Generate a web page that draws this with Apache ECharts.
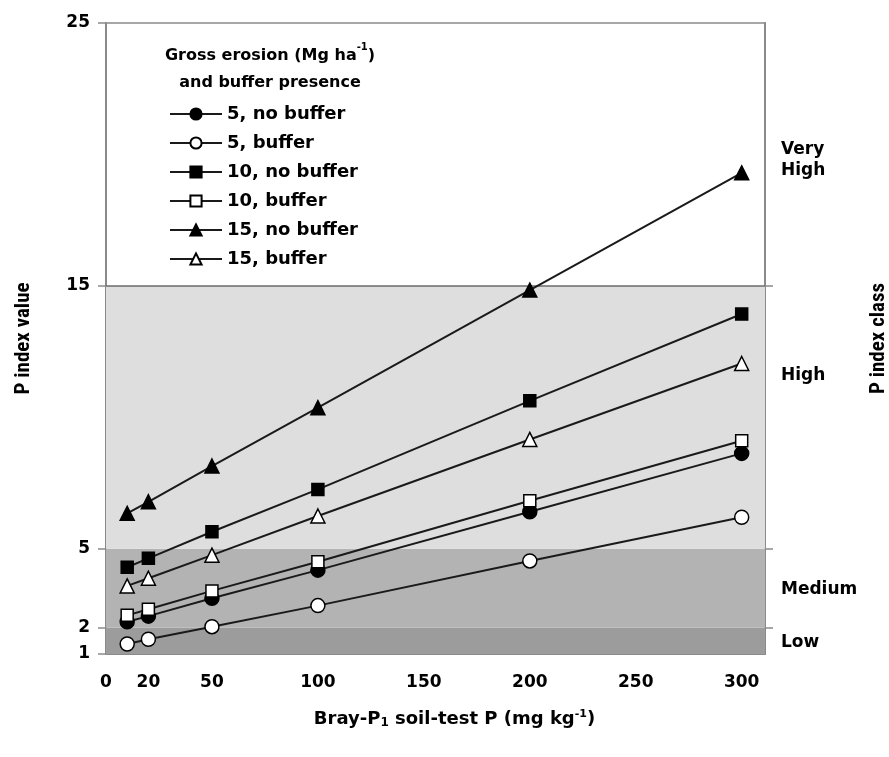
<!DOCTYPE html>
<html>
<head>
<meta charset="utf-8">
<script src="https://cdn.jsdelivr.net/npm/echarts@6/dist/echarts.min.js"></script>
<style>
  html, body { margin: 0; padding: 0; background: #fff; }
  #chart { width: 889px; height: 757px; }
</style>
</head>
<body>
<div id="chart"></div>
<script>
// soil-test P levels (mg/kg)
var soilP = [10, 20, 50, 100, 200, 300];

// P index values
var e5NoBuffer = [2.23, 2.44, 3.12, 4.19, 6.41, 8.63];
var e5Buffer = [1.38, 1.56, 2.04, 2.84, 4.54, 6.2];
var e10NoBuffer = [4.3, 4.64, 5.65, 7.26, 10.63, 13.93];
var e10Buffer = [2.47, 2.7, 3.4, 4.51, 6.83, 9.11];
var e15NoBuffer = [6.35, 6.79, 8.15, 10.37, 14.84, 19.3];
var e15Buffer = [3.59, 3.88, 4.76, 6.25, 9.16, 12.05];

var xLabels = [0, 20, 50, 100, 150, 200, 250, 300];
var xTicks = [50, 100, 150, 200, 250, 300];
var yTicks = [1, 2, 5, 15, 25];
var classBreaks = [2, 5, 15];
// class names and where their labels sit on the right
var classNames = ['Low', 'Medium', 'High', 'Very\nHigh'];
var classLabelAt = [1.42, 3.45, 11.6, 19.8];
var bands = [[1, 2, '#9c9c9c'], [2, 5, '#b3b3b3'], [5, 15, '#dedede']];

var chart = echarts.init(document.getElementById('chart'));

var font = 'DejaVu Sans, Verdana, sans-serif';
var nameFont = 'Liberation Sans Narrow, Roboto Condensed, Roboto, sans-serif';

function pair(xs, ys) {
    return xs.map(function (x, i) { return [x, ys[i]]; });
}

function lineSeries(name, ys, symbol, size, filled) {
    return {
        name: name,
        type: 'line',
        z: 5,
        data: pair(soilP, ys),
        symbol: symbol,
        symbolSize: size,
        showAllSymbol: true,
        lineStyle: { color: '#1a1a1a', width: 2 },
        itemStyle: {
            color: filled ? '#000' : '#fff',
            borderColor: '#000',
            borderWidth: 1.5
        }
    };
}

var option = {
    backgroundColor: '#fff',
    animation: false,
    title: {
        text: 'Gross erosion (Mg ha{sup|-1})\nand buffer presence',
        left: 265,
        top: 37,
        textAlign: 'center',
        textStyle: {
            fontFamily: font,
            fontSize: 16,
            fontWeight: 'bold',
            color: '#000',
            lineHeight: 27,
            rich: {
                sup: { fontSize: 10, fontWeight: 'bold', verticalAlign: 'top', lineHeight: 27, padding: [0, 0, 8, 0] }
            }
        }
    },
    legend: {
        data: ['5, no buffer', '5, buffer', '10, no buffer', '10, buffer', '15, no buffer', '15, buffer'],
        orient: 'vertical',
        left: 164,
        top: 99,
        itemWidth: 52,
        itemHeight: 14,
        itemGap: 9,
        textStyle: { fontFamily: font, fontSize: 18, fontWeight: 'bold', color: '#000', lineHeight: 20 }
    },
    grid: {
        left: 106,
        right: 124,
        top: 23,
        bottom: 103,
        outerBoundsMode: 'none',
        show: true,
        borderColor: '#8a8a8a',
        borderWidth: 1.5
    },
    xAxis: {
        type: 'value',
        min: 0,
        max: 311,
        name: 'Bray-P{sub|1} soil-test P (mg kg{sup|-1})',
        nameLocation: 'middle',
        nameGap: 55,
        nameTextStyle: {
            fontFamily: font, fontSize: 18, fontWeight: 'bold', color: '#000',
            padding: [0, 0, 0, 38],
            rich: {
                sub: { fontSize: 12, fontWeight: 'bold', verticalAlign: 'bottom', padding: [8, 0, 0, 0] },
                sup: { fontSize: 11, fontWeight: 'bold', verticalAlign: 'top', padding: [0, 0, 8, 0] }
            }
        },
        axisLine: { lineStyle: { color: '#8a8a8a', width: 2 } },
        axisTick: { inside: true, length: 4, customValues: xTicks, lineStyle: { color: '#999' } },
        axisLabel: {
            customValues: xLabels,
            margin: 20,
            fontFamily: font, fontSize: 17, fontWeight: 'bold', color: '#000'
        },
        splitLine: { show: false }
    },
    yAxis: [{
        type: 'value',
        min: 1,
        max: 25,
        name: 'P index value',
        nameLocation: 'middle',
        nameRotate: 90,
        nameGap: 72,
        nameTextStyle: { fontFamily: nameFont, fontSize: 21, fontWeight: 'bold', color: '#000' },
        axisLine: { show: true, lineStyle: { color: '#8a8a8a', width: 2 } },
        axisTick: { show: true, length: 8, customValues: yTicks, lineStyle: { color: '#8a8a8a', width: 1.5 } },
        axisLabel: {
            customValues: yTicks,
            margin: 16,
            fontFamily: font, fontSize: 17, fontWeight: 'bold', color: '#000'
        },
        splitLine: { show: false }
    }, {
        type: 'value',
        position: 'right',
        min: 1,
        max: 25,
        name: 'P index class',
        nameLocation: 'middle',
        nameRotate: 90,
        nameGap: 92,
        nameTextStyle: { fontFamily: nameFont, fontSize: 21, fontWeight: 'bold', color: '#000' },
        axisLine: { show: true, lineStyle: { color: '#8a8a8a', width: 2 } },
        axisTick: { show: true, length: 8, customValues: classBreaks, lineStyle: { color: '#8a8a8a', width: 1.5 } },
        axisLabel: {
            customValues: classLabelAt,
            margin: 16,
            align: 'left',
            lineHeight: 21,
            fontFamily: font, fontSize: 17, fontWeight: 'bold', color: '#000',
            formatter: function (v) {
                var i = classLabelAt.indexOf(v);
                return i >= 0 ? classNames[i] : '';
            }
        },
        splitLine: { show: false }
    }],
    series: [
        {
            name: 'bands',
            type: 'line',
            z: 1,
            silent: true,
            data: [],
            markArea: {
                silent: true,
                data: bands.map(function (b) {
                    return [{ yAxis: b[0], itemStyle: { color: b[2] } }, { yAxis: b[1] }];
                })
            },
            markLine: {
                silent: true,
                symbol: 'none',
                label: { show: false },
                lineStyle: { color: '#6a6a6a', width: 1.5, type: 'solid' },
                data: [{ yAxis: 15 }]
            }
        },
        lineSeries('5, no buffer', e5NoBuffer, 'circle', 14, true),
        lineSeries('5, buffer', e5Buffer, 'circle', 14, false),
        lineSeries('10, no buffer', e10NoBuffer, 'rect', 12, true),
        lineSeries('10, buffer', e10Buffer, 'rect', 12, false),
        lineSeries('15, no buffer', e15NoBuffer, 'triangle', 14, true),
        lineSeries('15, buffer', e15Buffer, 'triangle', 14, false)
    ]
};

chart.setOption(option);

window.onresize = function () {
    chart.resize();
};
</script>
</body>
</html>
